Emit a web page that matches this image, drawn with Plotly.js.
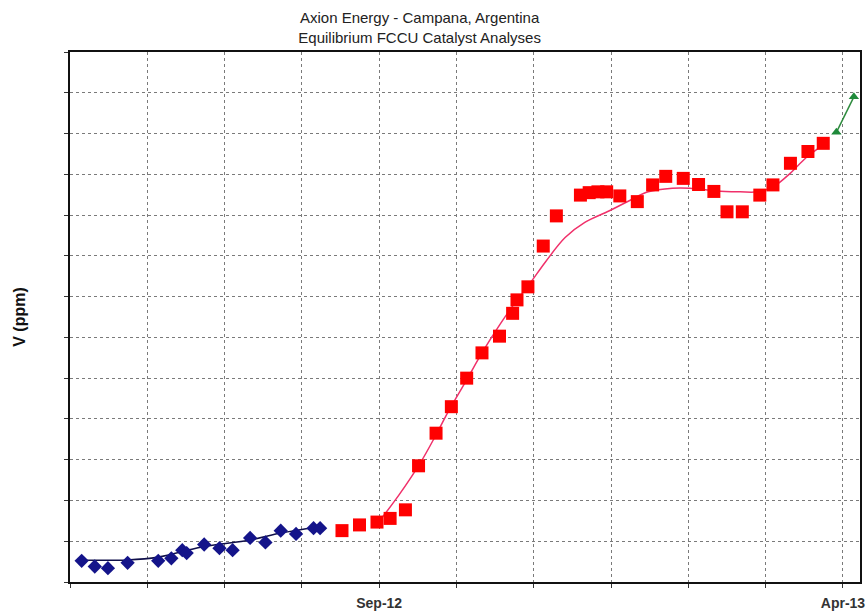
<!DOCTYPE html>
<html>
<head>
<meta charset="utf-8">
<script src="https://cdn.plot.ly/plotly-3.0.1.min.js"></script>
<style>html,body{margin:0;padding:0;background:#fff;}#chart{width:867px;height:616px;}</style>
</head>
<body>
<div id="chart"></div>
<script>
// Blue diamonds (earlier catalyst period)
const blueDates = ['2012-04-18','2012-04-24','2012-04-30','2012-05-09','2012-05-23','2012-05-29','2012-06-03','2012-06-05','2012-06-13','2012-06-20','2012-06-26','2012-07-04','2012-07-11','2012-07-18','2012-07-25','2012-08-02','2012-08-05'];
const blueV = [52,38,34,47,52,58,78,71,92,83,78,108,97,126,118,132,132];
const blueFitDates = ['2012-04-16','2012-05-09','2012-05-23','2012-06-12','2012-07-04','2012-07-18','2012-08-04'];
const blueFitV = [54,54,61,86,103,120,135];

// Red squares
const redDates = ['2012-08-15','2012-08-23','2012-08-31','2012-09-06','2012-09-13','2012-09-19','2012-09-27','2012-10-04','2012-10-11','2012-10-18','2012-10-26','2012-11-01','2012-11-03','2012-11-08','2012-11-15','2012-11-21','2012-12-02','2012-12-06','2012-12-10','2012-12-14','2012-12-20','2012-12-28','2013-01-04','2013-01-10','2013-01-18','2013-01-25','2013-02-01','2013-02-07','2013-02-14','2013-02-22','2013-02-28','2013-03-08','2013-03-16','2013-03-23'];
const redV = [126,140,147,156,177,285,365,430,500,562,603,659,692,724,824,898,949,955,957,957,947,933,974,995,990,975,958,908,908,949,974,1027,1056,1076];
const redFitDates = ['2012-08-30','2012-09-10','2012-09-20','2012-09-27','2012-10-03','2012-10-11','2012-10-18','2012-10-26','2012-11-02','2012-11-09','2012-11-16','2012-11-25','2012-12-04','2012-12-15','2012-12-25','2013-01-02','2013-01-13','2013-01-21','2013-02-02','2013-02-13','2013-02-21','2013-02-28','2013-03-08','2013-03-15','2013-03-23'];
const redFitV = [135,213,294,361,422,496,562,630,684,733,785,845,882,910,937,957,966,966,959,957,957,969,1003,1040,1072];

// Green triangles
const greenDates = ['2013-03-29','2013-04-06'];
const greenV = [1103,1190];

// Axis tick labels
const tickLabelSep = 'Sep-12';
const tickLabelApr = 'Apr-13';

const DAY = 86400000;
const sep1 = Date.UTC(2012,8,1);
const step = 212/6*DAY;
function iso(ms){return new Date(ms).toISOString().replace('T',' ').replace('Z','');}
const tickvals = [], ticktext = [];
for (let k=-4;k<=6;k++){ tickvals.push(iso(sep1+k*step)); ticktext.push(k===0?tickLabelSep:(k===6?tickLabelApr:'')); }
const xr = [iso(sep1-4*step), iso(sep1+212*DAY+7.8*DAY)];

const traces = [
 {x:blueFitDates,y:blueFitV,mode:'lines',line:{color:'#10104a',width:1.6,shape:'spline'},hoverinfo:'skip'},
 {x:redFitDates,y:redFitV,mode:'lines',line:{color:'#f0306a',width:1.5,shape:'spline'},hoverinfo:'skip'},
 {x:greenDates,y:greenV,mode:'lines',line:{color:'#2e8b3e',width:1.5},hoverinfo:'skip'},
 {x:blueDates,y:blueV,mode:'markers',marker:{symbol:'diamond',size:11,color:'#14148a'}},
 {x:redDates,y:redV,mode:'markers',marker:{symbol:'square',size:13,color:'#ff0000'}},
 {x:greenDates,y:greenV,mode:'markers',marker:{symbol:'triangle-up',size:9,color:'#1f8a3a'}}
];

const layout = {
 width:867,height:616,
 paper_bgcolor:'#fff',plot_bgcolor:'#fff',
 showlegend:false,
 margin:{l:70,r:7,t:52,b:34},
 font:{family:'"Liberation Sans", Arial, sans-serif',color:'#222'},
 title:{text:'Axion Energy - Campana, Argentina<br>Equilibrium FCCU Catalyst Analyses',font:{size:15,color:'#222'},x:0.484,xref:'container',xanchor:'center',y:0.962,yanchor:'top'},
 xaxis:{type:'date',range:xr,tickmode:'array',tickvals:tickvals,ticktext:ticktext,
   showgrid:true,gridcolor:'#7a7a7a',griddash:'dot',gridwidth:1,
   showline:true,linecolor:'#111',linewidth:2,mirror:true,
   ticks:'outside',ticklen:4,tickcolor:'#333',ticklabelstandoff:3,
   tickfont:{size:14,color:'#333',weight:'bold'},zeroline:false},
 yaxis:{range:[0,1300],dtick:100,tick0:0,showticklabels:false,
   showgrid:true,gridcolor:'#7a7a7a',griddash:'dot',gridwidth:1,
   showline:true,linecolor:'#111',linewidth:2,mirror:true,
   ticks:'outside',ticklen:4,tickcolor:'#333',zeroline:false,
   title:{text:'V (ppm)',standoff:34,font:{size:16,color:'#111',weight:'bold'}}}
};
Plotly.newPlot('chart',traces,layout,{displayModeBar:false,staticPlot:true});
</script>
</body>
</html>
